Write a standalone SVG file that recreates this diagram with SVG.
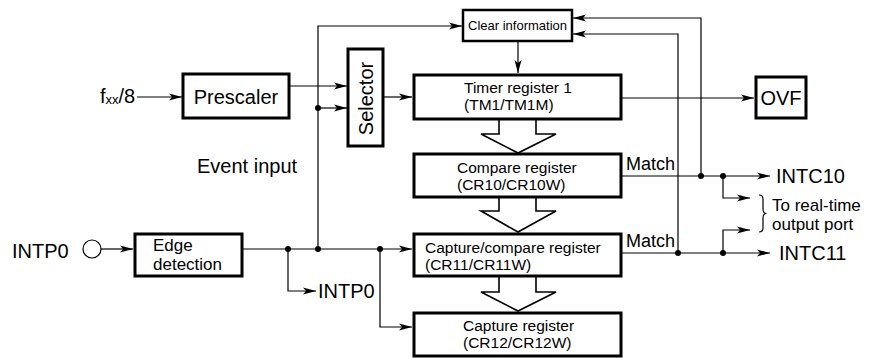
<svg xmlns="http://www.w3.org/2000/svg" width="875" height="358" viewBox="0 0 875 358">
<defs>
<marker id="ah" markerUnits="userSpaceOnUse" markerWidth="14" markerHeight="10" refX="13" refY="4" orient="auto">
<path d="M0,0.5 L13,4 L0,7.5 L3,4 z" fill="#000"/>
</marker>
<style>
text{font-family:"Liberation Sans",Arial,sans-serif;fill:#000}
.box{fill:#fff;stroke:#000;stroke-width:3}
.thin{fill:#fff;stroke:#000;stroke-width:2.5}
.ln{fill:none;stroke:#000;stroke-width:1.2}
.arr{fill:none;stroke:#000;stroke-width:1.2;marker-end:url(#ah)}
.big{fill:#fff;stroke:#000;stroke-width:1.6}
.dot{fill:#000}
.reg{font-size:15.5px}
.lg{font-size:20px}
.md{font-size:18px}
</style>
</defs>
<rect width="875" height="358" fill="#fff"/>

<g id="connectors">
<line class="arr" x1="137" y1="97" x2="182" y2="97"/>
<line class="arr" x1="290" y1="86" x2="347" y2="86"/>
<line class="arr" x1="318" y1="108" x2="347" y2="108"/>
<polyline class="arr" points="318,249 318,26 462,26"/>
<line class="arr" x1="384" y1="97" x2="412" y2="97"/>
<line class="arr" x1="518" y1="41" x2="518" y2="73"/>
<line class="arr" x1="622" y1="98" x2="754" y2="98"/>
<polyline class="arr" points="701,176 701,18 573,18"/>
<polyline class="arr" points="678,253 678,34 573,34"/>
<line class="arr" x1="622" y1="176" x2="770" y2="176"/>
<polyline class="arr" points="723,176 723,198 750,198"/>
<line class="arr" x1="622" y1="253" x2="770" y2="253"/>
<polyline class="arr" points="723,253 723,230 750,230"/>
<line class="arr" x1="101" y1="249" x2="133" y2="249"/>
<line class="arr" x1="243" y1="249" x2="412" y2="249"/>
<polyline class="arr" points="288,249 288,291 316,291"/>
<polyline class="arr" points="380,249 380,327 412,327"/>
<circle class="dot" cx="318" cy="108" r="3"/>
<circle class="dot" cx="288" cy="249" r="3"/>
<circle class="dot" cx="318" cy="249" r="3"/>
<circle class="dot" cx="380" cy="249" r="3"/>
<circle class="dot" cx="701" cy="176" r="3"/>
<circle class="dot" cx="723" cy="176" r="3"/>
<circle class="dot" cx="678" cy="253" r="3"/>
<circle class="dot" cx="723" cy="253" r="3"/>
<polyline class="big" points="499,120 499,134 481,134 518,153 556,134 536,134 536,120"/>
<polyline class="big" points="499,198 499,211 481,211 518,232 556,211 536,211 536,198"/>
<polyline class="big" points="499,277 499,292 481,292 518,311 556,292 536,292 536,277"/>
<path class="ln" d="M759,195 q4,0 4,4 v10 q0,4.5 3.5,4.5 q-3.5,0 -3.5,4.5 v10 q0,4 -4,4"/>
</g>

<g id="fxx">
<text x="100" y="103" class="lg">f<tspan font-size="13" dy="1">xx</tspan><tspan dy="-1">/8</tspan></text>
</g>
<g id="prescaler">
<rect class="box" x="183" y="74" width="106" height="44"/>
<text x="236" y="104" class="lg" text-anchor="middle">Prescaler</text>
</g>
<g id="selector">
<rect class="box" x="348" y="49" width="35" height="97"/>
<text transform="translate(373,98.5) rotate(-90)" class="lg" text-anchor="middle">Selector</text>
</g>
<g id="clear">
<rect class="thin" x="463" y="10" width="109" height="31"/>
<text x="517.5" y="30" font-size="13" text-anchor="middle">Clear information</text>
</g>
<g id="timer">
<rect class="box" x="414" y="75" width="207" height="44"/>
<text x="464" y="93" class="reg">Timer register 1</text>
<text x="464" y="110" class="reg">(TM1/TM1M)</text>
</g>
<g id="ovf">
<rect class="box" x="756" y="77" width="50" height="41"/>
<text x="781" y="105" class="lg" text-anchor="middle">OVF</text>
</g>
<g id="compare">
<rect class="box" x="414" y="154" width="207" height="43"/>
<text x="457" y="173" class="reg">Compare register</text>
<text x="457" y="190" class="reg">(CR10/CR10W)</text>
</g>
<g id="capcomp">
<rect class="box" x="414" y="234" width="207" height="42"/>
<text x="425" y="253" class="reg">Capture/compare register</text>
<text x="425" y="270" class="reg">(CR11/CR11W)</text>
</g>
<g id="capture">
<rect class="box" x="414" y="313" width="207" height="43"/>
<text x="463" y="331" class="reg">Capture register</text>
<text x="463" y="348" class="reg">(CR12/CR12W)</text>
</g>
<g id="edge">
<rect class="box" x="135" y="234" width="107" height="42"/>
<text x="153" y="251" font-size="17">Edge</text>
<text x="153" y="270" font-size="17">detection</text>
</g>
<g id="intp0-in">
<text x="12" y="258" class="lg">INTP0</text>
<circle cx="92" cy="249" r="9" fill="#fff" stroke="#000" stroke-width="1.2"/>
</g>
<g id="labels">
<text x="197" y="173" class="lg">Event input</text>
<text x="318" y="298" class="lg">INTP0</text>
<text x="626" y="170" class="md">Match</text>
<text x="626" y="247" class="md">Match</text>
<text x="776" y="183" class="lg">INTC10</text>
<text x="779" y="260" class="lg">INTC11</text>
<text x="772" y="211" font-size="17">To real-time</text>
<text x="772" y="230" font-size="17">output port</text>
</g>
</svg>
